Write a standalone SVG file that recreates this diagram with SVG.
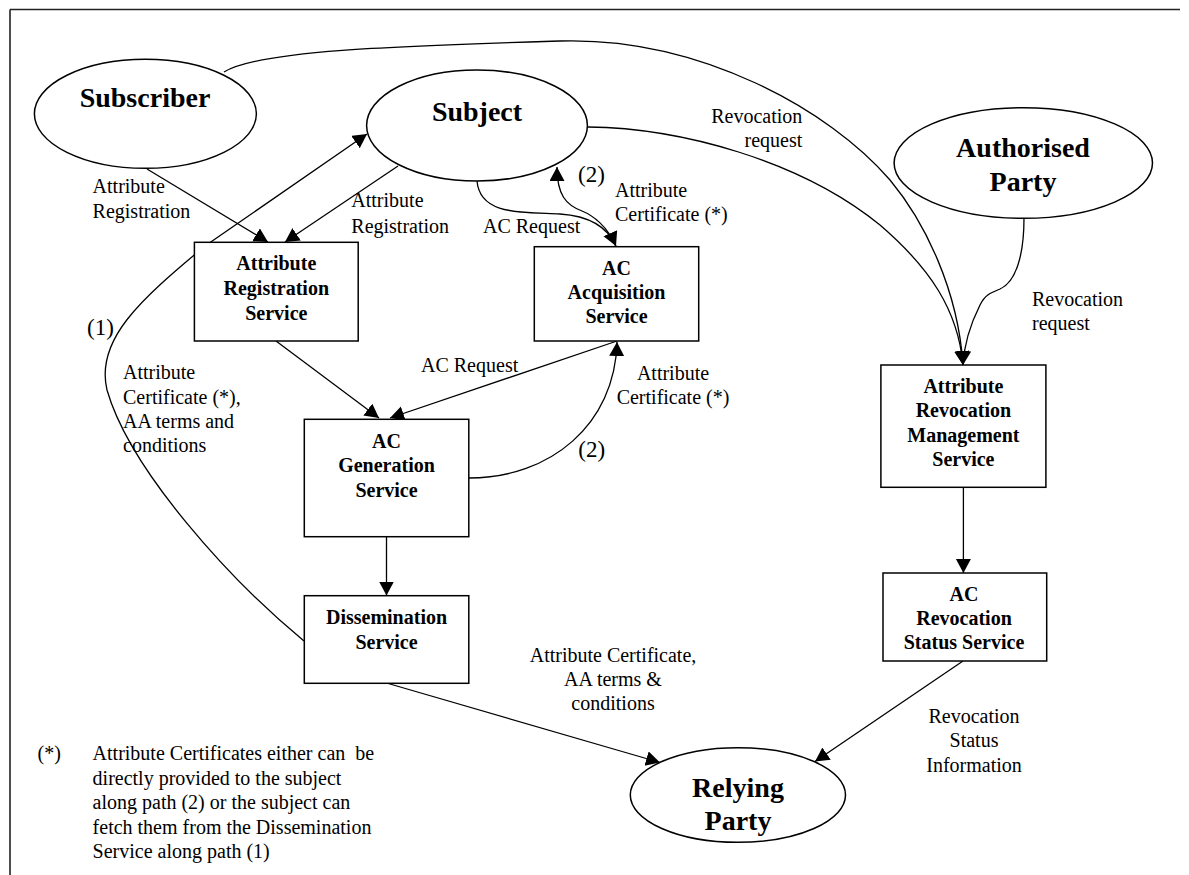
<svg xmlns="http://www.w3.org/2000/svg" width="1189" height="875" viewBox="0 0 1189 875">
<style>
  .frame { fill: none; stroke: #222; stroke-width: 1.6; }
  .node { fill: #fff; stroke: #000; stroke-width: 1.5; }
  .conn { fill: none; stroke: #000; stroke-width: 1.3; }
  .title { font-family: "Liberation Serif", "Times New Roman", serif; font-weight: bold; font-size: 28px; fill: #000; text-anchor: middle; }
  .box { font-family: "Liberation Serif", "Times New Roman", serif; font-weight: bold; font-size: 20px; fill: #000; text-anchor: middle; }
  .lbl { font-family: "Liberation Serif", "Times New Roman", serif; font-size: 20px; fill: #000; }
  .mid { text-anchor: middle; }
  .end { text-anchor: end; }
  .num { font-family: "Liberation Serif", "Times New Roman", serif; font-size: 23px; fill: #000; }
</style>
<defs>
  <marker id="arr" markerUnits="userSpaceOnUse" markerWidth="15" markerHeight="16" refX="14" refY="7.5" orient="auto">
    <path d="M0,0 L14,7.5 L0,15 z" fill="#000"/>
  </marker>
</defs>
<rect width="1189" height="875" fill="#fff"/>
<path class="frame" d="M10,9.5 H1180 M10,9.5 V875"/>

<g id="connectors">
  <!-- Subscriber -> Attribute Registration Service -->
  <path class="conn" d="M147,169 L268,242" marker-end="url(#arr)"/>
  <!-- Subject -> Attribute Registration Service -->
  <path class="conn" d="M398,166 L285,242" marker-end="url(#arr)"/>
  <!-- Dissemination -> Subject, path (1) -->
  <path class="conn" d="M304,641 C230,580 130,470 107,390 C95,340 140,300 205,246 L367,134" marker-end="url(#arr)"/>
  <!-- Subject -> AC Acquisition (AC Request) -->
  <path class="conn" d="M477,181 C480,215 520,212 560,214 C590,216 608,228 616,246" marker-end="url(#arr)"/>
  <!-- AC Acquisition -> Subject (2) -->
  <path class="conn" d="M616,247 C608,226 592,215 582,211 C566,205 557,195 557,167" marker-end="url(#arr)"/>
  <!-- Subscriber -> ARMS -->
  <path class="conn" d="M224,72 C260,50 400,46 560,41 C700,37 830,110 890,180 C925,222 958,290 963,365" marker-end="url(#arr)"/>
  <!-- Subject -> ARMS -->
  <path class="conn" d="M588,127 C680,128 800,160 880,225 C930,268 958,310 963,365" marker-end="url(#arr)"/>
  <!-- Authorised Party -> ARMS -->
  <path class="conn" d="M1024,218 C1024,255 1016,282 1000,289 C990,293 985,295 980,305 C970,325 964,345 963,365" marker-end="url(#arr)"/>
  <!-- ARS -> AC Generation -->
  <path class="conn" d="M276,341 L379,418" marker-end="url(#arr)"/>
  <!-- AC Acquisition -> AC Generation (AC Request) -->
  <path class="conn" d="M617,341 L390,418" marker-end="url(#arr)"/>
  <!-- AC Generation -> AC Acquisition (2) -->
  <path class="conn" d="M469,478 C550,478 615,425 617,342" marker-end="url(#arr)"/>
  <!-- AC Generation -> Dissemination -->
  <path class="conn" d="M386.5,537 L386.5,595.5" marker-end="url(#arr)"/>
  <!-- Dissemination -> Relying Party -->
  <path class="conn" d="M386.5,683 L660,762.5" marker-end="url(#arr)"/>
  <!-- ARMS -> ACRSS -->
  <path class="conn" d="M963.4,487 L963.4,573" marker-end="url(#arr)"/>
  <!-- ACRSS -> Relying Party -->
  <path class="conn" d="M963,661 L815,761.5" marker-end="url(#arr)"/>

  <!-- connector labels -->
  <text class="lbl" x="92.6" y="193">Attribute</text>
  <text class="lbl" x="92.6" y="218">Registration</text>
  <text class="lbl" x="351.3" y="207">Attribute</text>
  <text class="lbl" x="351.3" y="232.5">Registration</text>
  <text class="lbl" x="483" y="233">AC Request</text>
  <text class="num" x="578" y="182">(2)</text>
  <text class="lbl" x="615" y="196.5">Attribute</text>
  <text class="lbl" x="615" y="220.5">Certificate (*)</text>
  <text class="lbl end" x="802.3" y="123.3">Revocation</text>
  <text class="lbl end" x="802.3" y="146.7">request</text>
  <text class="lbl" x="1032" y="305.5">Revocation</text>
  <text class="lbl" x="1032" y="330">request</text>
  <text class="num" x="87" y="335">(1)</text>
  <text class="lbl" x="123" y="379">Attribute</text>
  <text class="lbl" x="123" y="404">Certificate (*),</text>
  <text class="lbl" x="123" y="428">AA terms and</text>
  <text class="lbl" x="123" y="452">conditions</text>
  <text class="lbl" x="421" y="372">AC Request</text>
  <text class="lbl mid" x="673" y="380">Attribute</text>
  <text class="lbl mid" x="673" y="403.5">Certificate (*)</text>
  <text class="num" x="578.3" y="457">(2)</text>
  <text class="lbl mid" x="613" y="662">Attribute Certificate,</text>
  <text class="lbl mid" x="613" y="686">AA terms &amp;</text>
  <text class="lbl mid" x="613" y="710">conditions</text>
  <text class="lbl mid" x="974" y="723">Revocation</text>
  <text class="lbl mid" x="974" y="747">Status</text>
  <text class="lbl mid" x="974" y="772">Information</text>
</g>

<g id="subscriber">
  <ellipse class="node" cx="145.4" cy="113.8" rx="111" ry="54.5"/>
  <text class="title" x="145" y="107">Subscriber</text>
</g>
<g id="subject">
  <ellipse class="node" cx="477" cy="125.5" rx="110.4" ry="55.5"/>
  <text class="title" x="477" y="121">Subject</text>
</g>
<g id="authorised-party">
  <ellipse class="node" cx="1023.3" cy="163" rx="129.2" ry="55.3"/>
  <text class="title" x="1023" y="157">Authorised</text>
  <text class="title" x="1023" y="191">Party</text>
</g>
<g id="relying-party">
  <ellipse class="node" cx="737.9" cy="795" rx="107.6" ry="47.3"/>
  <text class="title" x="738" y="797">Relying</text>
  <text class="title" x="738" y="830">Party</text>
</g>
<g id="attribute-registration-service">
  <rect class="node" x="194.4" y="242.3" width="163.8" height="98.7"/>
  <text class="box" x="276.3" y="270">Attribute</text>
  <text class="box" x="276.3" y="295">Registration</text>
  <text class="box" x="276.3" y="320">Service</text>
</g>
<g id="ac-acquisition-service">
  <rect class="node" x="534.3" y="246.7" width="164.4" height="94.3"/>
  <text class="box" x="616.5" y="275">AC</text>
  <text class="box" x="616.5" y="298.5">Acquisition</text>
  <text class="box" x="616.5" y="323">Service</text>
</g>
<g id="ac-generation-service">
  <rect class="node" x="304.3" y="419.3" width="164.5" height="117.4"/>
  <text class="box" x="386.5" y="448.3">AC</text>
  <text class="box" x="386.5" y="472.3">Generation</text>
  <text class="box" x="386.5" y="497.3">Service</text>
</g>
<g id="dissemination-service">
  <rect class="node" x="304.3" y="595.7" width="164.5" height="87.6"/>
  <text class="box" x="386.5" y="624">Dissemination</text>
  <text class="box" x="386.5" y="649">Service</text>
</g>
<g id="attribute-revocation-management-service">
  <rect class="node" x="880.9" y="365" width="165" height="122.3"/>
  <text class="box" x="963.4" y="393.3">Attribute</text>
  <text class="box" x="963.4" y="417">Revocation</text>
  <text class="box" x="963.4" y="441.7">Management</text>
  <text class="box" x="963.4" y="465.7">Service</text>
</g>
<g id="ac-revocation-status-service">
  <rect class="node" x="883" y="573" width="163.7" height="88"/>
  <text class="box" x="964" y="600.7">AC</text>
  <text class="box" x="964" y="625">Revocation</text>
  <text class="box" x="964" y="649.3">Status Service</text>
</g>

<g id="footnote">
  <text class="lbl" x="37.5" y="760">(*)</text>
  <text class="lbl" x="92.6" y="760" xml:space="preserve">Attribute Certificates either can  be</text>
  <text class="lbl" x="92.6" y="784.5">directly provided to the subject</text>
  <text class="lbl" x="92.6" y="809">along path (2) or the subject can</text>
  <text class="lbl" x="92.6" y="833.5">fetch them from the Dissemination</text>
  <text class="lbl" x="92.6" y="858">Service along path (1)</text>
</g>
</svg>
